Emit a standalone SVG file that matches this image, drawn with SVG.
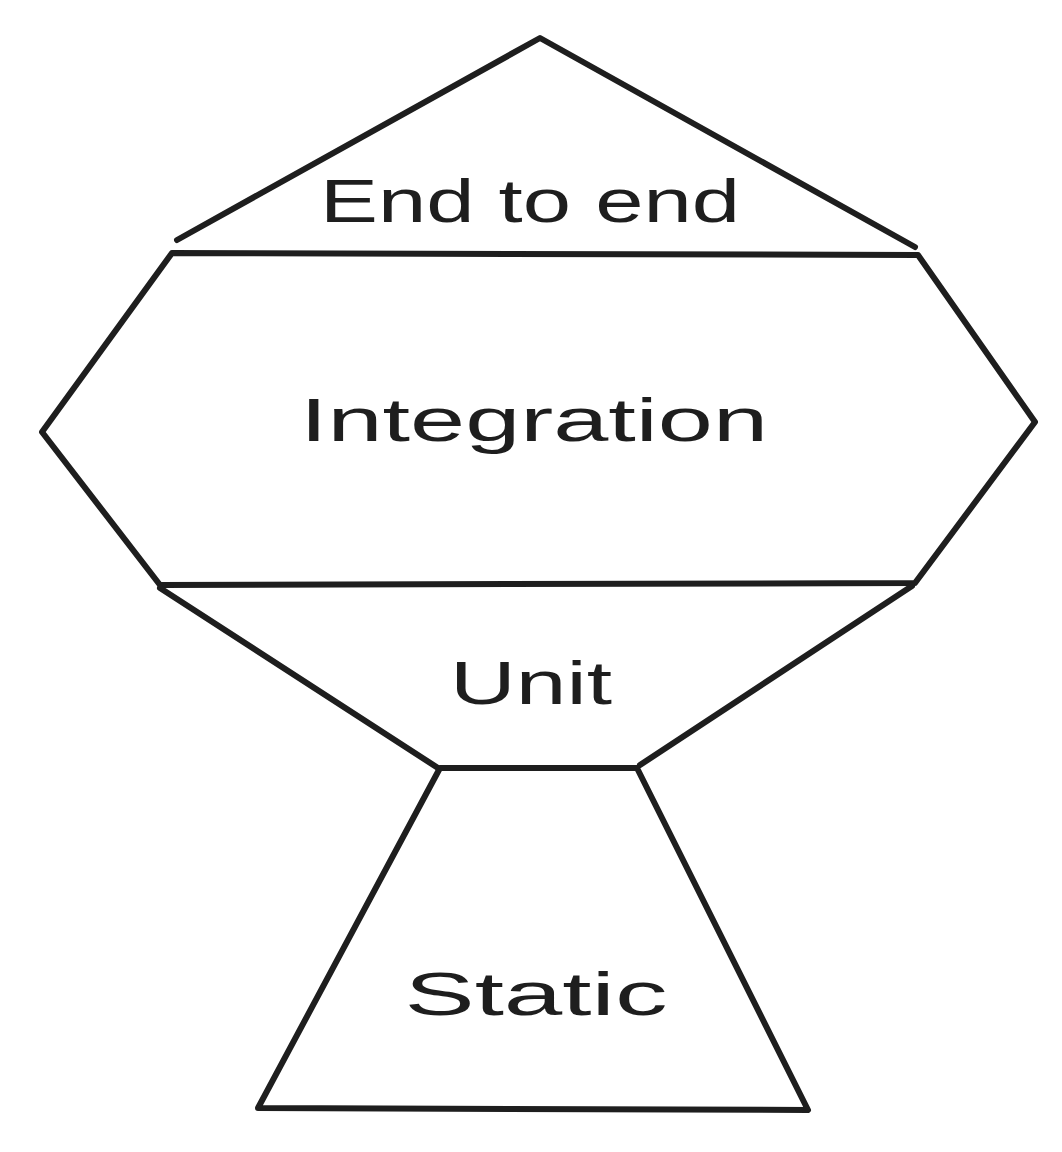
<svg xmlns="http://www.w3.org/2000/svg" width="1062" height="1152" viewBox="0 0 1062 1152">
<style>
.s{fill:none;stroke:#1e1e1e;stroke-width:6;stroke-linecap:round;stroke-linejoin:round}
.t{font-family:"Liberation Sans",Arial,sans-serif;font-size:62px;fill:#1e1e1e;text-anchor:middle}
</style>
<rect width="1062" height="1152" fill="#ffffff"/>
<g id="end-to-end">
<path class="s" d="M177 240 L540 38 L915 247"/>
<text class="t" x="530" y="222" textLength="420" lengthAdjust="spacingAndGlyphs">End to end</text>
</g>
<g id="integration">
<path class="s" d="M172 253 L918 255 L1035 422 L915 583 L160 585 L42 432 Z"/>
<text class="t" x="534" y="441" textLength="468" lengthAdjust="spacingAndGlyphs">Integration</text>
</g>
<g id="unit">
<path class="s" d="M160 588 L438 768 M912 586 L640 765"/>
<text class="t" x="531" y="704" textLength="162" lengthAdjust="spacingAndGlyphs">Unit</text>
</g>
<g id="static">
<path class="s" d="M440 768 L637 768 L808 1110 L258 1108 Z"/>
<text class="t" x="536" y="1015" textLength="263" lengthAdjust="spacingAndGlyphs">Static</text>
</g>
<g id="connectors"></g>
</svg>
